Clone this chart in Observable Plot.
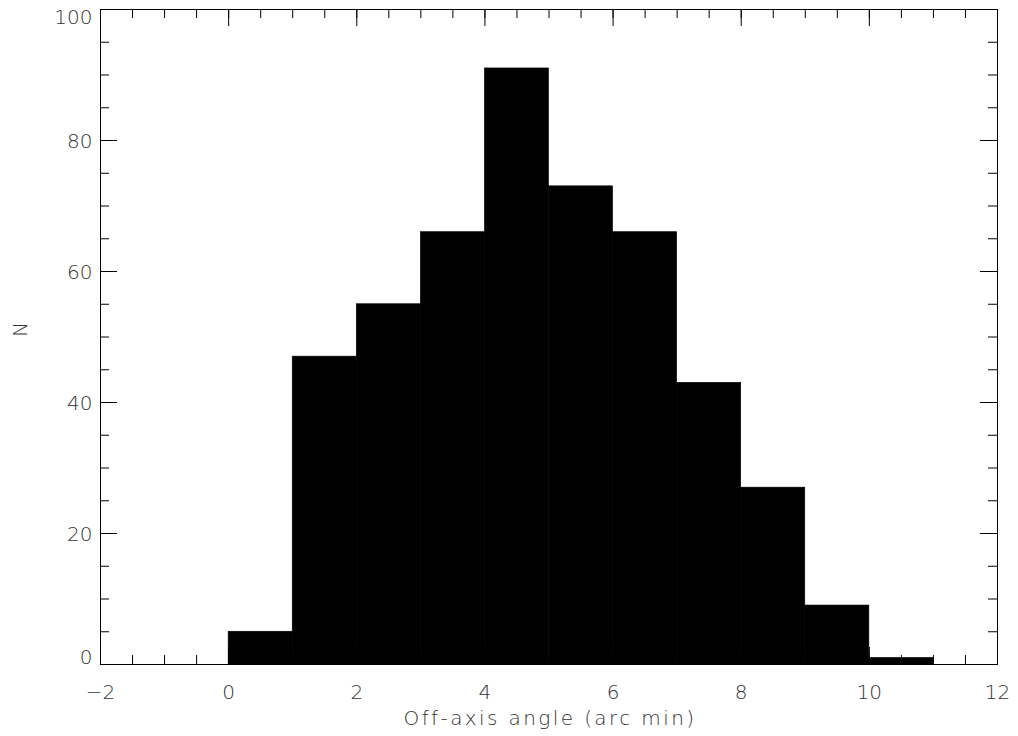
<!DOCTYPE html>
<html>
<head>
<meta charset="utf-8">
<script src="https://cdn.jsdelivr.net/npm/d3@7"></script>
<script src="https://cdn.jsdelivr.net/npm/@observablehq/plot@0.6"></script>
<style>
  html, body { margin: 0; padding: 0; background: #fff; }
  #chart svg { display: block; }
</style>
</head>
<body>
<div id="chart"></div>
<script>
// Histogram bins (arc min) and counts
const binStart = [0, 1, 2, 3, 4, 5, 6, 7, 8, 9, 10];
const binEnd   = [1, 2, 3, 4, 5, 6, 7, 8, 9, 10, 11];
const counts   = [5, 47, 55, 66, 91, 73, 66, 43, 27, 9, 1];

const xMajorTicks = [-2, 0, 2, 4, 6, 8, 10, 12];
const xMinorTicks = d3.range(-2, 12.001, 0.5);
const yMajorTicks = [0, 20, 40, 60, 80, 100];
const yMinorTicks = d3.range(0, 100.001, 5);

const xLabel = "Off-axis angle (arc min)";
const yLabel = "N";

const bins = binStart.map((s, i) => ({x1: s, x2: binEnd[i], n: counts[i]}));

const W = 1018, H = 736;
const mL = 100, mR = 21, mT = 9, mB = 72;
const plotW = W - mL - mR, plotH = H - mT - mB;
const major = 17, minor = 9;
const font = "'DejaVu Sans', sans-serif";
const txt = "#333";
const fs = 20;
const fmt = d => d < 0 ? "\u2212" + Math.abs(d) : String(d);

const yMid = yMajorTicks.filter(d => d > 0 && d < 100);

const chart = Plot.plot({
  width: W,
  height: H,
  marginLeft: mL,
  marginRight: mR,
  marginTop: mT,
  marginBottom: mB,
  style: {fontFamily: font, fontSize: fs + "px", fontWeight: 200, color: txt, background: "#fff"},
  x: {domain: [-2, 12], axis: null},
  y: {domain: [0, 100], axis: null},
  marks: [
    Plot.rectY(bins, {x1: "x1", x2: "x2", y: "n", fill: "#000", stroke: "#000", strokeWidth: 0.6}),
    // bottom & top x ticks
    Plot.tickX(xMinorTicks, {x: d => d, stroke: "#000", insetTop: plotH - minor}),
    Plot.tickX(xMajorTicks, {x: d => d, stroke: "#000", insetTop: plotH - major}),
    Plot.tickX(xMinorTicks, {x: d => d, stroke: "#000", insetBottom: plotH - minor}),
    Plot.tickX(xMajorTicks, {x: d => d, stroke: "#000", insetBottom: plotH - major}),
    // left & right y ticks
    Plot.tickY(yMinorTicks, {y: d => d, stroke: "#000", insetRight: plotW - minor}),
    Plot.tickY(yMajorTicks, {y: d => d, stroke: "#000", insetRight: plotW - major}),
    Plot.tickY(yMinorTicks, {y: d => d, stroke: "#000", insetLeft: plotW - minor}),
    Plot.tickY(yMajorTicks, {y: d => d, stroke: "#000", insetLeft: plotW - major}),
    Plot.frame({stroke: "#000"}),
    // x tick labels
    Plot.text(xMajorTicks, {x: d => d, text: fmt, frameAnchor: "bottom", lineAnchor: "middle", dy: 28, fill: txt, fontSize: fs}),
    // y tick labels
    Plot.text(yMid, {y: d => d, text: fmt, frameAnchor: "left", textAnchor: "end", dx: -8, dy: 1, fill: txt, fontSize: fs}),
    Plot.text([100], {y: d => d, text: fmt, frameAnchor: "left", textAnchor: "end", dx: -8, dy: 8, fill: txt, fontSize: fs}),
    Plot.text([0], {y: d => d, text: fmt, frameAnchor: "left", textAnchor: "end", dx: -8, dy: -7, fill: txt, fontSize: fs}),
    // axis titles
    Plot.text([xLabel], {frameAnchor: "bottom", lineAnchor: "middle", dy: 54, dx: 1, fill: txt, fontSize: fs}),
    Plot.text([yLabel], {frameAnchor: "left", dx: -80, rotate: -90, fill: txt, fontSize: fs})
  ]
});
// widen the x-axis title spacing to match the reference's vector font
d3.select(chart).selectAll("text")
  .filter(function() { return this.textContent === xLabel; })
  .style("letter-spacing", "2.4px");
document.getElementById("chart").appendChild(chart);
</script>
</body>
</html>
